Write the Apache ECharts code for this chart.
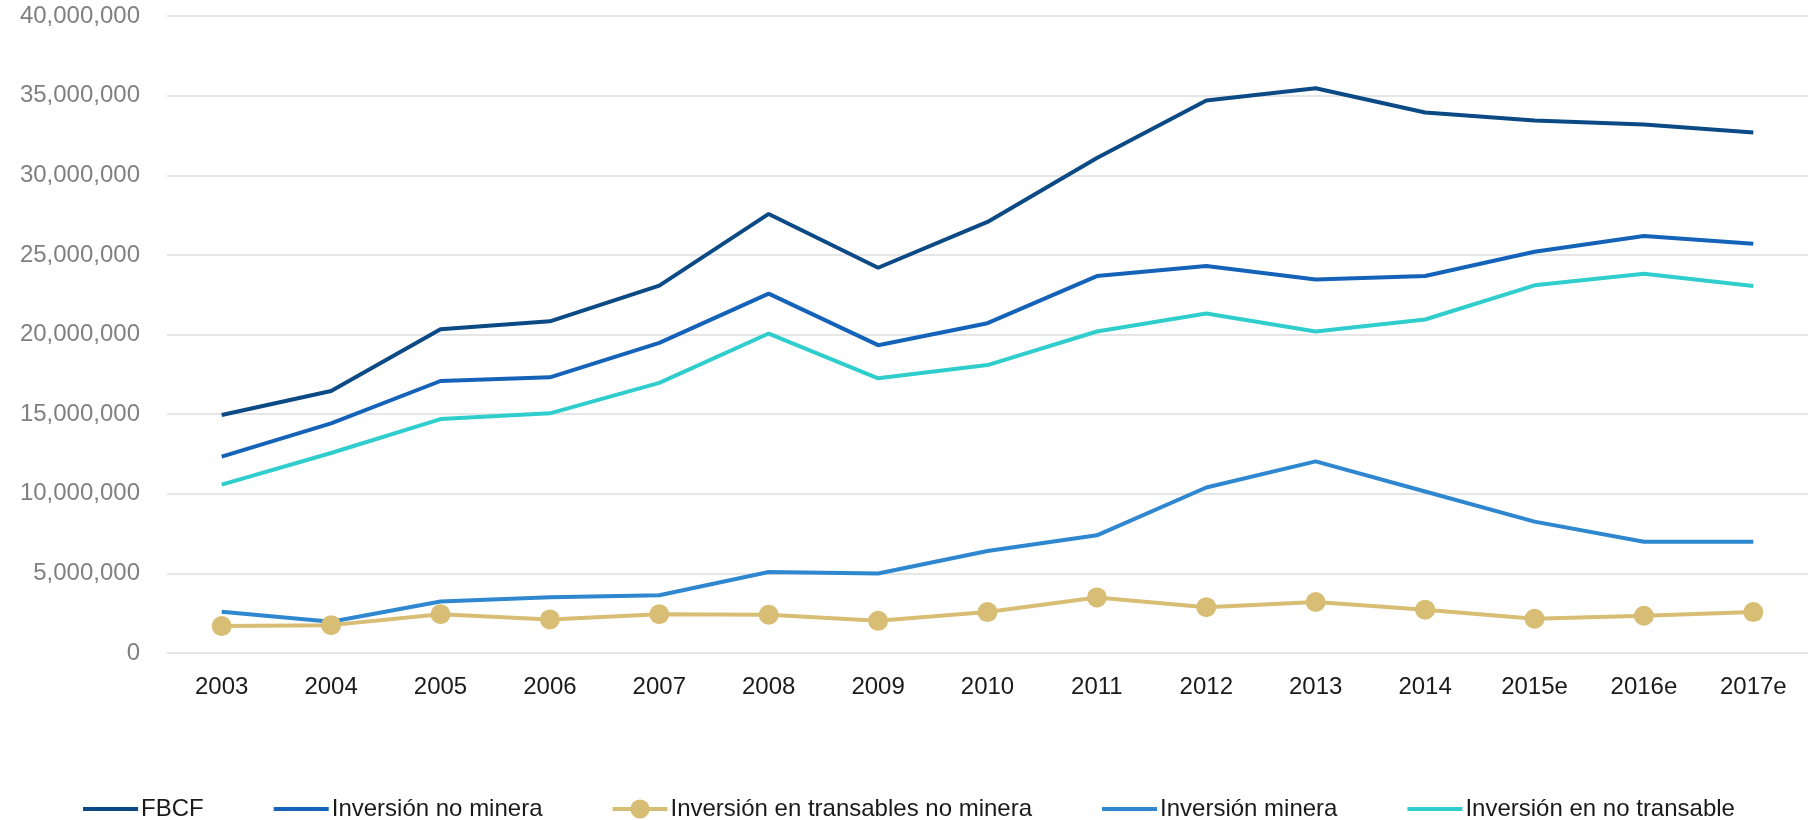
<!DOCTYPE html>
<html>
<head>
<meta charset="utf-8">
<title>FBCF e inversión</title>
<script src="https://cdn.jsdelivr.net/npm/echarts@6/dist/echarts.min.js"></script>
<style>
  html, body { margin: 0; padding: 0; background: #ffffff; }
  #chart { width: 1816px; height: 820px; }
</style>
</head>
<body>
<div id="chart"></div>
<script>
// Categories (years; "e" = estimate)
const years = ['2003', '2004', '2005', '2006', '2007', '2008', '2009', '2010', '2011', '2012', '2013', '2014', '2015e', '2016e', '2017e'];

// Series values
const fbcf = [14950000, 16450000, 20330000, 20830000, 23070000, 27570000, 24190000, 27070000, 31080000, 34690000, 35460000, 33940000, 33440000, 33190000, 32680000];
const inversionNoMinera = [12330000, 14420000, 17080000, 17310000, 19470000, 22570000, 19330000, 20710000, 23670000, 24300000, 23460000, 23670000, 25200000, 26180000, 25700000];
const transablesNoMinera = [1690000, 1750000, 2430000, 2110000, 2430000, 2400000, 2020000, 2570000, 3490000, 2880000, 3200000, 2720000, 2150000, 2340000, 2570000];
const inversionMinera = [2590000, 1960000, 3230000, 3500000, 3630000, 5090000, 4990000, 6400000, 7390000, 10390000, 12030000, 10140000, 8250000, 6990000, 6990000];
const noTransable = [10570000, 12560000, 14690000, 15050000, 16960000, 20060000, 17250000, 18080000, 20190000, 21320000, 20190000, 20940000, 23090000, 23820000, 23050000];

// Y axis ticks
const yMin = 0;
const yMax = 40000000;
const yStep = 5000000;

const FONT = '"Liberation Sans", Arial, sans-serif';

const chart = echarts.init(document.getElementById('chart'), null, { renderer: 'canvas' });

function lineSeries(name, data, color, width) {
  return {
    name: name,
    type: 'line',
    data: data,
    symbol: 'none',
    lineStyle: { color: color, width: width },
    itemStyle: { color: color },
    emphasis: { disabled: true },
    animation: false
  };
}

// Plain line icons in the legend (hide the default marker)
const plainIcon = { itemStyle: { opacity: 0 } };

chart.setOption({
  backgroundColor: '#ffffff',
  animation: false,
  grid: { left: 167, right: 8, top: 16, bottom: 167, containLabel: false, outerBoundsMode: 'none' },
  xAxis: {
    type: 'category',
    data: years,
    boundaryGap: true,
    axisLine: { show: false },
    axisTick: { show: false },
    axisLabel: { color: '#1a1a1a', fontSize: 24, fontFamily: FONT, margin: 22 },
    splitLine: { show: false }
  },
  yAxis: {
    type: 'value',
    min: yMin,
    max: yMax,
    interval: yStep,
    axisLine: { show: false },
    axisTick: { show: false },
    axisLabel: {
      color: '#808080',
      fontSize: 24,
      fontFamily: FONT,
      align: 'right',
      margin: 27,
      formatter: v => v.toLocaleString('en-US')
    },
    splitLine: { lineStyle: { color: '#e6e6e6', width: 2 } }
  },
  legend: {
    left: 'center',
    top: 792,
    itemWidth: 55,
    itemHeight: 24,
    itemGap: 68,
    lineStyle: { width: 4 },
    textStyle: { color: '#1a1a1a', fontSize: 24, fontFamily: FONT, padding: [0, 0, 0, -2] },
    data: [
      Object.assign({ name: 'FBCF' }, plainIcon),
      Object.assign({ name: 'Inversión no minera' }, plainIcon),
      { name: 'Inversión en transables no minera' },
      Object.assign({ name: 'Inversión minera' }, plainIcon),
      Object.assign({ name: 'Inversión en no transable' }, plainIcon)
    ]
  },
  series: [
    lineSeries('FBCF', fbcf, '#0b4a84', 4),
    lineSeries('Inversión no minera', inversionNoMinera, '#1463b9', 4),
    {
      name: 'Inversión en transables no minera',
      type: 'line',
      data: transablesNoMinera,
      symbol: 'circle',
      symbolSize: 20,
      showSymbol: true,
      lineStyle: { color: '#d8bd74', width: 4 },
      itemStyle: { color: '#d8bd74' },
      emphasis: { disabled: true },
      animation: false
    },
    lineSeries('Inversión minera', inversionMinera, '#2e87cf', 4),
    lineSeries('Inversión en no transable', noTransable, '#30cdcd', 4)
  ]
});
</script>
</body>
</html>
